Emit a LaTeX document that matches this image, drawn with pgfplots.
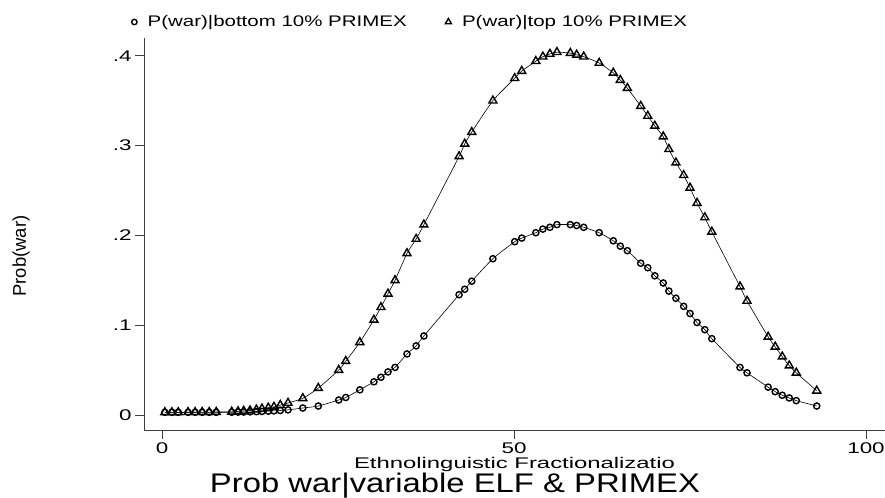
\documentclass[border=0pt]{standalone}
\usepackage{fontspec}
\setmainfont{Liberation Sans}
\usepackage{graphicx}
\usepackage{pgfplots}
\pgfplotsset{compat=1.18}
\usepackage{pgfplotstable}

\pgfplotstableread{
x    tri     circ
0.4  0.0030  0.0030
1.4  0.0030  0.0030
2.3  0.0030  0.0030
3.7  0.0031  0.0030
4.7  0.0031  0.0030
5.7  0.0032  0.0030
6.7  0.0032  0.0030
7.7  0.0033  0.0030
9.9  0.0035  0.0031
10.8 0.0040  0.0032
11.6 0.0045  0.0033
12.5 0.0050  0.0035
13.4 0.0060  0.0037
14.2 0.0070  0.0040
15.1 0.0080  0.0043
15.9 0.0090  0.0046
16.8 0.0110  0.0050
17.9 0.0134  0.0057
20.0 0.0186  0.0078
22.2 0.030   0.0100
25.1 0.050   0.0167
26.1 0.060   0.0195
28.1 0.081   0.028
30.1 0.106   0.037
31.1 0.120   0.042
32.1 0.135   0.048
33.1 0.150   0.053
34.8 0.180   0.068
36.1 0.196   0.077
37.2 0.212   0.088
42.2 0.288   0.134
43.0 0.302   0.140
44.0 0.315   0.149
47.0 0.350   0.174
50.1 0.375   0.193
51.1 0.383   0.197
53.1 0.394   0.203
54.1 0.399   0.207
55.1 0.402   0.209
56.1 0.404   0.212
58.0 0.403   0.212
58.9 0.401   0.211
59.9 0.399   0.209
62.1 0.392   0.203
64.1 0.381   0.194
65.1 0.373   0.188
66.1 0.364   0.183
68.0 0.344   0.169
69.0 0.333   0.164
70.0 0.322   0.155
71.2 0.310   0.147
72.0 0.296   0.138
73.0 0.281   0.130
74.1 0.267   0.121
75.0 0.253   0.113
76.0 0.236   0.103
77.1 0.220   0.095
78.1 0.204   0.085
82.1 0.143   0.053
83.1 0.127   0.047
86.1 0.087   0.031
87.1 0.076   0.026
88.1 0.065   0.022
89.1 0.055   0.019
90.1 0.047   0.016
93.0 0.027   0.010
}\data

\newcommand\tk[1]{\scalebox{1.45}[1]{#1}}

\begin{document}
\begin{tikzpicture}
\begin{axis}[
  scale only axis, width=741bp, height=392bp,
  xmin=-2.56, xmax=102.7, ymin=-0.0167, ymax=0.4198,
  axis x line*=bottom, axis y line*=left,
  axis line style={black!75, line width=0.9bp, -},
  xtick={0,50,100}, xticklabels={\tk{0},\tk{50},\tk{100}},
  ytick={0,0.1,0.2,0.3,0.4}, yticklabels={\tk{0},\tk{.1},\tk{.2},\tk{.3},\tk{.4}},
  tick align=outside, major tick length=9bp,
  tick style={black!75, line width=0.9bp},
  minor tick num=0,
  tick label style={font=\fontsize{15.5}{16}\selectfont},
  xticklabel style={inner sep=1bp, yshift=-2.7bp},
  legend columns=2,
  legend cell align=left,
  legend style={at={(-0.0167,1.0408)}, anchor=west, draw=none, fill=none,
    inner sep=0pt, outer sep=0pt, nodes={inner sep=0pt},
    font=\fontsize{15.4}{16}\selectfont,
    /tikz/every odd column/.append style={column sep=10.6bp},
    /tikz/every even column/.append style={column sep=38.6bp}},
]
\addplot[black, line width=0.6bp, smooth, tension=0.4, mark=o, mark size=3.1bp,
  mark options={line width=1.4bp, solid},
  legend image code/.code={\draw[black, mark=o, mark size=2.7bp, line width=0.9bp] plot coordinates {(0bp,0bp)};}]
  table[x=x, y=circ]{\data};
\addlegendentry{\scalebox{1.335}[1]{P(war)|bottom 10\% PRIMEX}}
\addplot[black, line width=0.6bp, smooth, tension=0.4, mark=triangle, mark size=4.6bp,
  mark options={line width=1.4bp, solid},
  legend image code/.code={\draw[black, mark=triangle, mark size=3.5bp, line width=0.9bp] plot coordinates {(0bp,0bp)};}]
  table[x=x, y=tri]{\data};
\addlegendentry{\scalebox{1.335}[1]{P(war)|top 10\% PRIMEX}}
\end{axis}
\node[anchor=base, inner sep=0pt, font=\fontsize{15.5}{16}\selectfont] at (370.5bp,-38.5bp) {\scalebox{1.545}[1]{Ethnolinguistic Fractionalizatio}};
\node[anchor=base, inner sep=0pt, font=\fontsize{27}{28}\selectfont] at (311bp,-62.5bp) {\scalebox{1.22}[1]{Prob war|variable ELF \& PRIMEX}};
\node[rotate=90, font=\fontsize{18.5}{19}\selectfont] at (-123bp,174bp) {Prob(war)};
\pgfresetboundingbox
\path[use as bounding box] (-144bp,-68bp) rectangle (741bp,430bp);
\end{tikzpicture}
\end{document}
